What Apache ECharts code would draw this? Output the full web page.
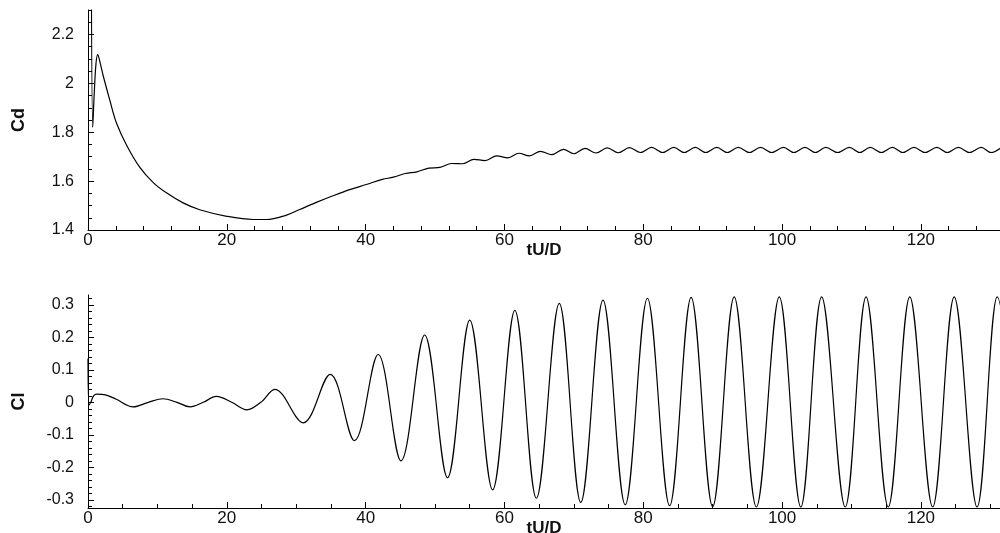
<!DOCTYPE html>
<html>
<head>
<meta charset="utf-8">
<script src="https://cdn.jsdelivr.net/npm/echarts@6/dist/echarts.min.js"></script>
<style>
html,body{margin:0;padding:0;background:#fff;}
#c{width:1000px;height:533px;}
</style>
</head>
<body>
<div id="c"></div>
<script>
// ---- Data ----
const cdTime = [0.45, 0.68, 0.9, 1.15, 1.4, 1.7, 2.2, 3.2, 4.1, 5.6, 7.5, 9.4, 11.3, 13.7, 16.1, 20.0, 23.8, 25.7, 28.6, 30.5, 32.9, 35.3, 37.7, 40.1,
  42.4, 44.0, 45.7, 47.4, 49.1, 50.7, 52.4, 54.0, 55.6, 57.2, 58.9, 60.5, 62.1, 63.6, 65.2, 66.8, 68.5, 70.0, 71.6, 73.2, 74.8, 76.4, 78.0,
  79.6, 81.2, 82.8, 84.4, 85.9, 87.5, 89.0, 90.6, 92.1, 93.7, 95.3, 96.9, 98.5, 100.2, 101.7, 103.3, 104.8, 106.3, 108.0, 109.7, 111.2,
  112.7, 114.3, 115.9, 117.4, 119.0, 120.6, 122.3, 123.8, 125.4, 127.0, 128.7, 130.1, 131.6];
const cdValue = [2.75, 1.82, 1.96, 2.08, 2.118, 2.09, 2.03, 1.925, 1.838, 1.745, 1.655, 1.594, 1.552, 1.511, 1.483, 1.456, 1.443, 1.443, 1.461, 1.484, 1.513, 1.540, 1.565, 1.586,
  1.607, 1.616, 1.631, 1.638, 1.653, 1.656, 1.672, 1.671, 1.689, 1.684, 1.703, 1.695, 1.714, 1.703, 1.722, 1.708, 1.730, 1.712, 1.734, 1.715, 1.736, 1.716, 1.737,
  1.717, 1.738, 1.717, 1.738, 1.717, 1.738, 1.717, 1.738, 1.717, 1.738, 1.717, 1.738, 1.717, 1.738, 1.717, 1.738, 1.717, 1.738, 1.717, 1.738, 1.717,
  1.738, 1.717, 1.738, 1.717, 1.738, 1.717, 1.738, 1.717, 1.738, 1.717, 1.738, 1.717, 1.738];

const clTime = [0, 0.15, 0.4, 0.8, 1.3, 2.5, 4.0, 6.5, 8.7, 10.8, 12.8, 14.7, 16.6, 18.5, 20.7, 22.9, 24.9, 26.9,
  31.0, 34.9, 38.4, 41.8, 45.1, 48.5, 51.8, 55.0, 58.3, 61.5, 64.6, 67.9, 71.0, 74.2, 77.4, 80.6, 83.8, 86.9, 90.0,
  93.1, 96.3, 99.6, 102.7, 105.7, 109.1, 112.1, 115.3, 118.4, 121.7, 124.8, 128.1, 131.0, 134.2];
const clValue = [0.135, -0.008, 0.0, 0.02, 0.025, 0.023, 0.01, -0.014, 0.0, 0.011, 0.0, -0.014, 0.0, 0.018, 0.0, -0.023, 0.0, 0.040,
  -0.063, 0.086, -0.118, 0.147, -0.180, 0.207, -0.232, 0.253, -0.269, 0.283, -0.295, 0.304, -0.308, 0.314, -0.315, 0.320, -0.318, 0.323, -0.321,
  0.324, -0.322, 0.324, -0.322, 0.324, -0.322, 0.324, -0.322, 0.324, -0.322, 0.324, -0.322, 0.324, -0.322];

// ---- Axis ticks / labels ----
const xMajorTicks = [0, 20, 40, 60, 80, 100, 120];
const cdMajorTicks = [1.4, 1.6, 1.8, 2, 2.2];
const clMajorTicks = [-0.3, -0.2, -0.1, 0, 0.1, 0.2, 0.3];
const xMax = 131.4;
const cdRange = [1.4, 2.3];
const clRange = [-0.325, 0.33];

function steps(a, b, s) {
  const out = [];
  for (let i = 0; a + i * s <= b + 1e-9; i++) out.push(+(a + i * s).toFixed(4));
  return out;
}
const topXMinor = steps(0, xMax, 4);
const botXMinor = steps(0, xMax, 5);
const cdMinor = steps(1.4, 2.3, 0.05);
const clMinor = steps(-0.32, 0.33, 0.02);

const FONT = '"Liberation Sans", Arial, Helvetica, sans-serif';
const black = '#000';

function majorX(grid, name) {
  return {
    gridIndex: grid, type: 'value', min: 0, max: xMax, position: 'bottom',
    axisLine: { show: true, onZero: false, lineStyle: { color: black, width: 1 } },
    axisTick: { show: true, inside: true, length: 6, customValues: xMajorTicks, lineStyle: { color: black } },
    axisLabel: { show: true, customValues: xMajorTicks, margin: 2, fontSize: 17, color: '#111', fontFamily: FONT },
    splitLine: { show: false },
    name: name, nameLocation: 'middle', nameGap: 12, nameMoveOverlap: false,
    nameTextStyle: { fontWeight: 'bold', fontSize: 17, color: '#111', fontFamily: FONT, verticalAlign: 'top' }
  };
}
function minorX(grid, vals) {
  return {
    gridIndex: grid, type: 'value', min: 0, max: xMax, position: 'bottom', offset: 0,
    axisLine: { show: false, onZero: false },
    axisTick: { show: true, inside: true, length: 4, customValues: vals, lineStyle: { color: black } },
    axisLabel: { show: false }, splitLine: { show: false }
  };
}
function majorY(grid, range, ticks, name) {
  return {
    gridIndex: grid, type: 'value', min: range[0], max: range[1], position: 'left',
    axisLine: { show: true, onZero: false, lineStyle: { color: black, width: 1 } },
    axisTick: { show: true, inside: true, length: 6, customValues: ticks, lineStyle: { color: black } },
    axisLabel: { show: true, customValues: ticks, margin: 14, fontSize: 16, color: '#111', fontFamily: FONT,
      formatter: v => String(+v.toFixed(3)) },
    splitLine: { show: false },
    name: name, nameLocation: 'middle', nameRotate: 90, nameGap: 60, nameMoveOverlap: false,
    nameTextStyle: { fontWeight: 'bold', fontSize: 18, color: '#111', fontFamily: FONT }
  };
}
function minorY(grid, range, vals) {
  return {
    gridIndex: grid, type: 'value', min: range[0], max: range[1], position: 'left', offset: 0,
    axisLine: { show: false, onZero: false },
    axisTick: { show: true, inside: true, length: 4, customValues: vals, lineStyle: { color: black } },
    axisLabel: { show: false }, splitLine: { show: false }
  };
}

const chart = echarts.init(document.getElementById('c'), null, { renderer: 'canvas' });
chart.setOption({
  animation: false,
  backgroundColor: '#fff',
  grid: [
    { left: 88, top: 10, width: 912, height: 220, containLabel: false, outerBoundsMode: 'none' },
    { left: 88, top: 295, width: 912, height: 213, containLabel: false, outerBoundsMode: 'none' }
  ],
  xAxis: [majorX(0, 'tU/D'), minorX(0, topXMinor), majorX(1, 'tU/D'), minorX(1, botXMinor)],
  yAxis: [majorY(0, cdRange, cdMajorTicks, 'Cd'), minorY(0, cdRange, cdMinor),
          majorY(1, clRange, clMajorTicks, 'Cl'), minorY(1, clRange, clMinor)],
  series: [
    { type: 'line', xAxisIndex: 0, yAxisIndex: 0, showSymbol: false, smooth: 0.35, clip: true,
      lineStyle: { color: black, width: 1.2 },
      data: cdTime.map((t, i) => [t, cdValue[i]]) },
    { type: 'line', xAxisIndex: 2, yAxisIndex: 2, showSymbol: false, smooth: 0.36, clip: true,
      lineStyle: { color: black, width: 1.2 },
      data: clTime.map((t, i) => [t, clValue[i]]) }
  ]
});
</script>
</body>
</html>
